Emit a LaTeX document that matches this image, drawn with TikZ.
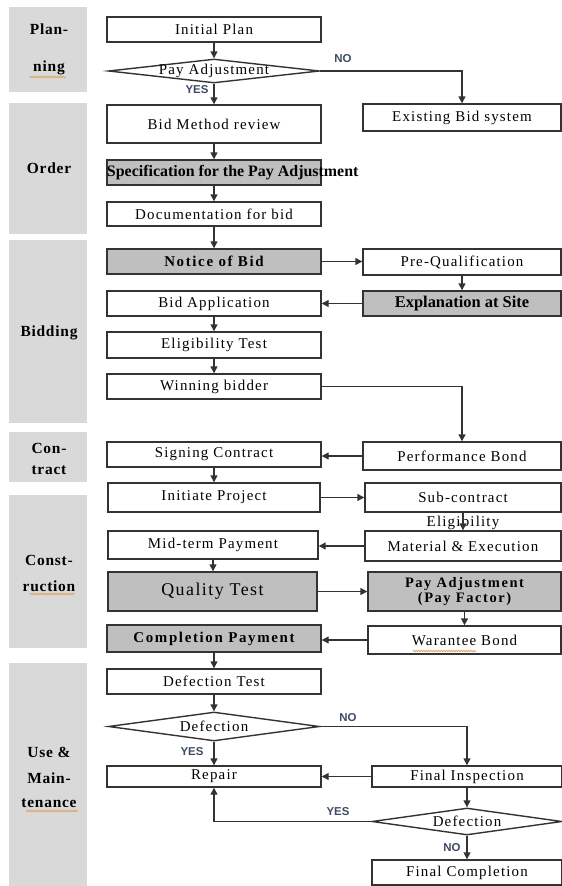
\documentclass[tikz,border=0pt]{standalone}
\usepackage{fontspec}
\setmainfont{Liberation Serif}
\newfontfamily\bt[LetterSpace=8]{Liberation Serif}
\newfontfamily\btb[LetterSpace=11]{Liberation Serif}
\newfontfamily\btl[LetterSpace=5]{Liberation Serif}
\newfontfamily\ynf{Liberation Sans}
\usetikzlibrary{arrows.meta,shapes.geometric,decorations.pathmorphing}
\definecolor{panelgray}{HTML}{D9D9D9}
\definecolor{boxgray}{HTML}{BFBFBF}
\definecolor{lineclr}{HTML}{333333}
\definecolor{ynclr}{HTML}{3F4A66}
\definecolor{squig}{HTML}{E0A060}
\begin{document}
\begin{tikzpicture}[x=1bp,y=-1bp,
  box/.style={draw=lineclr, line width=1.4bp, fill=white, inner sep=0pt,
    font=\bt\fontsize{15}{17}\selectfont},
  gbox/.style={box, fill=boxgray},
  bfbox/.style={font=\btb\bfseries\fontsize{15}{17}\selectfont},
  dshape/.style={diamond, draw=lineclr, line width=1.4bp, fill=white, inner sep=0pt},
  dtxt/.style={inner sep=0pt, font=\bt\fontsize{15}{17}\selectfont},
  panel/.style={fill=panelgray, inner sep=0pt},
  ptxt/.style={inner sep=0pt, font=\btl\bfseries\fontsize{15.5}{17}\selectfont},
  arr/.style={draw=lineclr, line width=1.4bp, -{Triangle[length=7bp,width=7bp]}},
  yn/.style={inner sep=0pt, font=\ynf\bfseries\fontsize{11.5}{12}\selectfont, text=ynclr},
  squiggle/.style={draw=squig, line width=0.8bp, decorate,
    decoration={snake, amplitude=0.7bp, segment length=2.5bp}},
]
\useasboundingbox (0,0) rectangle (562,886);

% ---- phase panels ----
\node[panel, minimum width=78bp, minimum height=85bp]  (pplan)  at (48,49.5) {};
\node[panel, minimum width=78bp, minimum height=131bp] (porder) at (48,168.5) {};
\node[panel, minimum width=78bp, minimum height=183bp] (pbid)   at (48,331.5) {};
\node[panel, minimum width=78bp, minimum height=50bp]  (pcon)   at (48,457) {};
\node[panel, minimum width=78bp, minimum height=153bp] (pconst) at (48,571.5) {};
\node[panel, minimum width=78bp, minimum height=223bp] (puse)   at (48,774.5) {};

\node[ptxt] (t1a) at (49,29) {Plan-};
\node[ptxt] (t1b) at (49,68) {ning};
\node[ptxt] (t2)  at (49,168) {Order};
\node[ptxt] (t3)  at (49,333) {Bidding};
\node[ptxt] (t4a) at (49,448) {Con-};
\node[ptxt] (t4b) at (49,470) {tract};
\node[ptxt] (t5a) at (49,560) {Const-};
\node[ptxt] (t5b) at (49,586) {ruction};
\node[ptxt] (t6a) at (49,752) {Use \&};
\node[ptxt] (t6b) at (49,778) {Main-};
\node[ptxt] (t6c) at (49,803) {tenance};

% ---- left column ----
\node[box, minimum width=214bp, minimum height=25bp] (init) at (214,29.5) {Initial Plan};
\node[dshape, minimum width=211bp, minimum height=24bp] (d1) at (214,71) {};
\node[dtxt] (d1t) at (d1) {Pay Adjustment};
\node[box, minimum width=214bp, minimum height=38bp] (bmr) at (214,124) {Bid Method review};
\node[gbox, minimum width=214bp, minimum height=25bp] (spec) at (214,172.5) {};
\node[inner sep=0pt, anchor=west, font=\bfseries\fontsize{16}{17}\selectfont] (spect)
  at ([xshift=0.5bp]spec.west) {Specification for the Pay Adjustment};
\node[box, minimum width=214bp, minimum height=24bp] (doc) at (214,214) {Documentation for bid};
\node[gbox, bfbox, minimum width=214bp, minimum height=25bp] (nob) at (214,261.5) {Notice of Bid};
\node[box, minimum width=214bp, minimum height=25bp] (bapp) at (214,303.5) {Bid Application};
\node[box, minimum width=214bp, minimum height=26bp] (elig) at (214,345) {Eligibility Test};
\node[box, minimum width=214bp, minimum height=25bp] (win) at (214,386.5) {Winning bidder};
\node[box, minimum width=214bp, minimum height=25bp] (sign) at (214,454.5) {Signing Contract};
\node[box, minimum width=212bp, minimum height=29bp] (ip) at (214,497.5) {Initiate Project};
\node[box, minimum width=210bp, minimum height=28bp] (mid) at (213,545) {Mid-term Payment};
\node[gbox, minimum width=209bp, minimum height=39bp, font=\bt\fontsize{18}{20}\selectfont] (qt) at (212.5,591.5) {Quality Test};
\node[gbox, bfbox, minimum width=214bp, minimum height=27bp] (cp) at (214,638.5) {Completion Payment};
\node[box, minimum width=214bp, minimum height=25bp] (dt) at (214,681.5) {Defection Test};
\node[dshape, minimum width=211bp, minimum height=29bp] (d2) at (214,726.5) {};
\node[dtxt] (d2t) at (d2) {Defection};
\node[box, minimum width=214bp, minimum height=21bp] (rep) at (214,776.5) {Repair};

% ---- right column ----
\node[box, minimum width=198bp, minimum height=27bp] (ebs) at (462,117.5) {Existing Bid system};
\node[box, minimum width=198bp, minimum height=26bp] (pq) at (462,262) {Pre-Qualification};
\node[gbox, minimum width=198bp, minimum height=25bp, font=\bfseries\fontsize{16.5}{18}\selectfont] (ex) at (462,303.5) {Explanation at Site};
\node[box, minimum width=198bp, minimum height=28bp] (pb) at (462,456) {Performance Bond};
\node[box, minimum width=196bp, minimum height=29bp] (sub) at (463,497.5) {Sub-contract};
\node[dtxt] (elt) at (463,523) {Eligibility};
\node[box, minimum width=196bp, minimum height=30bp] (mat) at (463,546) {Material \& Execution};
\node[gbox, minimum width=193bp, minimum height=39bp, align=center,
  font=\btb\bfseries\fontsize{14.5}{15}\selectfont] (pa) at (464.5,591.5) {Pay Adjustment\\(Pay Factor)};
\node[box, minimum width=193bp, minimum height=28bp] (wb) at (464.5,640) {Warantee Bond};
\node[box, minimum width=190bp, minimum height=21bp] (fi) at (467,776.5) {Final Inspection};
\node[dshape, minimum width=190bp, minimum height=27bp] (d3) at (467,821.5) {};
\node[dtxt] (d3t) at (d3) {Defection};
\node[box, minimum width=190bp, minimum height=25bp] (fc) at (467,872.5) {Final Completion};

% ---- connectors ----
\draw[arr] (init.south) -- (d1.north);
\draw[arr] (d1.south) -- (bmr.north);
\draw[arr] (d1.east) -| (ebs.north);
\draw[arr] (bmr.south) -- (spec.north);
\draw[arr] (spec.south) -- (doc.north);
\draw[arr] (doc.south) -- (nob.north);
\draw[arr] (nob.east) -- (nob.east -| pq.west);
\draw[arr] (pq.south) -- (ex.north);
\draw[arr] (ex.west) -- (ex.west -| bapp.east);
\draw[arr] (bapp.south) -- (elig.north);
\draw[arr] (elig.south) -- (win.north);
\draw[arr] (win.east) -| (pb.north);
\draw[arr] (pb.west) -- (pb.west -| sign.east);
\draw[arr] (sign.south) -- (ip.north);
\draw[arr] (ip.east) -- (ip.east -| sub.west);
\draw[arr] (sub.south) -- (mat.north);
\draw[arr] (mat.west) -- (mat.west -| mid.east);
\draw[arr] (mid.south) -- (mid.south |- qt.north);
\draw[arr] (qt.east) -- (qt.east -| pa.west);
\draw[arr] (pa.south) -- (wb.north);
\draw[arr] (wb.west) -- (wb.west -| cp.east);
\draw[arr] (cp.south) -- (dt.north);
\draw[arr] (dt.south) -- (d2.north);
\draw[arr] (d2.south) -- (rep.north);
\draw[arr] (d2.east) -| (fi.north);
\draw[arr] (fi.west) -- (fi.west -| rep.east);
\draw[arr] (fi.south) -- (d3.north);
\draw[arr] (d3.west) -| (rep.south);
\draw[arr] (d3.south) -- (fc.north);

% ---- YES / NO ----
\node[yn] (no1)  at (343,59)  {NO};
\node[yn] (yes1) at (197,90)  {YES};
\node[yn] (no2)  at (348,718) {NO};
\node[yn] (yes2) at (192,752) {YES};
\node[yn] (yes3) at (338,812) {YES};
\node[yn] (no3)  at (452,848) {NO};

% ---- spell-check marks ----
\draw[squiggle] (30,77) -- (66,77);
\draw[squiggle] (30,594) -- (75,594);
\draw[squiggle] (26,811) -- (78,811);
\draw[squiggle] (413,651) -- (476,651);
\end{tikzpicture}
\end{document}
